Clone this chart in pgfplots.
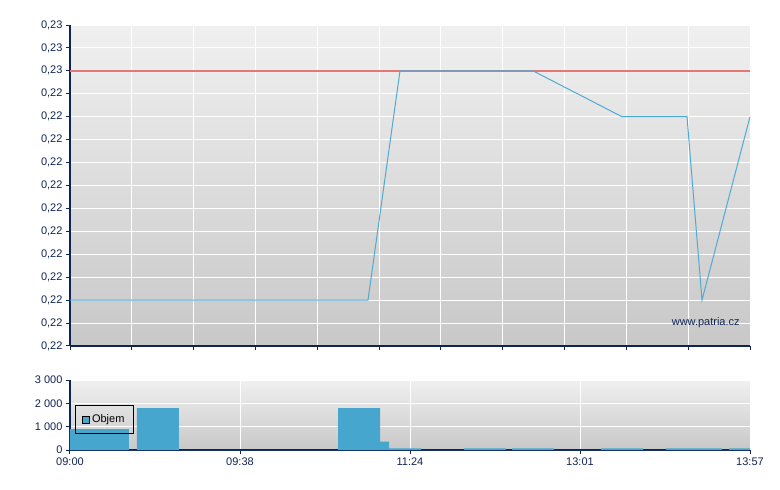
\documentclass[border=0pt]{standalone}
\usepackage{fontspec}
\setmainfont{Liberation Sans}
\usepackage{pgfplots}
\pgfplotsset{compat=1.18}
\definecolor{navy}{RGB}{16,36,84}
\definecolor{lineblue}{RGB}{80,170,210}
\definecolor{barblue}{RGB}{70,166,206}
\definecolor{refred}{RGB}{224,120,120}
\definecolor{bgtop}{RGB}{240,240,240}
\definecolor{bgbot}{RGB}{200,200,200}
\pgfplotsset{
 patria/.style={
  scale only axis, width=680pt,
  xmin=0, xmax=680,
  axis x line*=bottom, axis y line*=left,
  axis line style={navy, line width=1.2pt, -},
  tick style={navy, line width=1pt},
  tick align=outside, major tick length=4pt,
  grid=major, grid style={white, line width=1pt},
  axis background/.style={shade, top color=bgtop, bottom color=bgbot},
  tick label style={font=\fontsize{11}{13}\selectfont, text=navy},
  /pgf/number format/assume math mode=true,
 }
}
\begin{document}
\begin{tikzpicture}
\path[use as bounding box] (0,0) rectangle (780pt,-490pt);
% price panel
\begin{axis}[patria,
  at={(70pt,-25pt)}, anchor=north west,
  height=321pt,
  ymin=0.219, ymax=0.226,
  xtick={0,61.82,123.64,185.45,247.27,309.09,370.91,432.73,494.55,556.36,618.18,680},
  xticklabels={},
  ytick={0.219,0.2195,0.22,0.2205,0.221,0.2215,0.222,0.2225,0.223,0.2235,0.224,0.2245,0.225,0.2255,0.226},
  yticklabels={{0,22},{0,22},{0,22},{0,22},{0,22},{0,22},{0,22},{0,22},{0,22},{0,22},{0,22},{0,22},{0,23},{0,23},{0,23}},
]
\addplot[refred, line width=1.5pt] coordinates {(0,0.225) (680,0.225)};
\addplot[lineblue, line width=1pt] coordinates {
 (0,0.2200) (298,0.2200) (330,0.2250) (463,0.2250) (552,0.2240) (617,0.2240) (632,0.2200) (680,0.2240)};
\node[anchor=east, font=\fontsize{11}{13}\selectfont, text=navy] at (rel axis cs:0.99,0.072) {www.patria.cz};
\end{axis}
% volume panel
\begin{axis}[patria,
  at={(70pt,-380pt)}, anchor=north west,
  height=70pt,
  ymin=0, ymax=3000,
  xtick={0,170,340,510,680},
  xticklabels={09:00,09:38,11:24,13:01,13:57},
  ytick={0,1000,2000,3000},
  yticklabels={0,1 000,2 000,3 000},
  legend style={at={(rel axis cs:0.0074,0.643)}, anchor=north west,
    draw=black, line width=0.8pt, fill=none,
    font=\fontsize{11}{13}\selectfont, inner xsep=7pt, inner ysep=7.5pt},
  legend cell align=left,
  legend image code/.code={\draw[fill=barblue, draw=black, line width=0.6pt] (0pt,-3.5pt) rectangle (7pt,3.5pt);},
]
\addplot[const plot mark left, fill=barblue, draw=none] coordinates {
 (0,900) (59,0) (67,1800) (109,0) (268,1800) (310,355) (319,70) (351,0)
 (394,70) (436,0) (442,70) (484,0) (531,70) (573,0) (596,70) (652,0) (659,70) (680,70)} \closedcycle;
\addlegendentry{Objem}
\end{axis}
\end{tikzpicture}
\end{document}
